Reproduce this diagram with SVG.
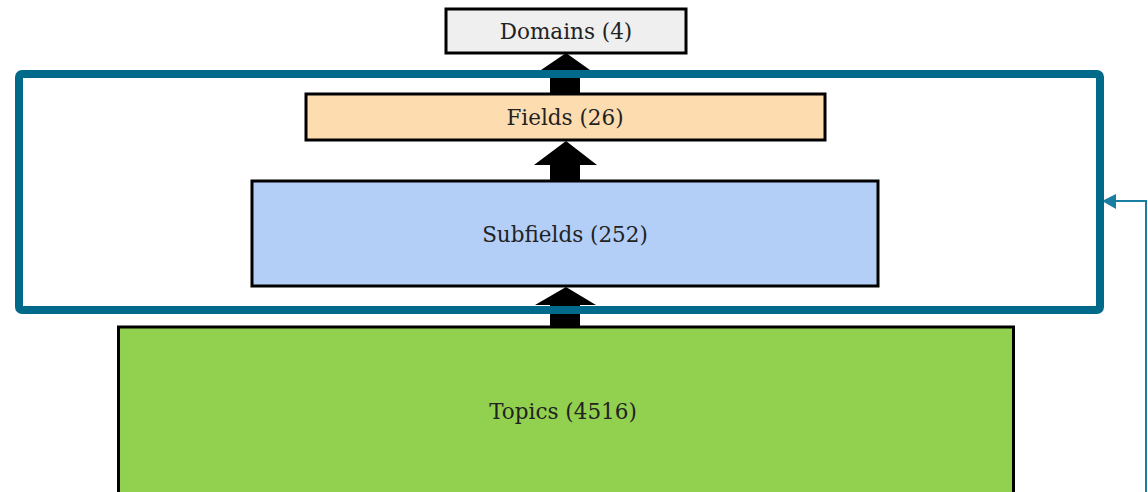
<svg xmlns="http://www.w3.org/2000/svg" width="1148" height="492" viewBox="0 0 1148 492">
<style>
.box{stroke:#000;stroke-width:3}
.lbl{font-family:"DejaVu Serif","Liberation Serif",serif;font-size:21.5px;fill:#222;text-anchor:middle;dominant-baseline:central}
.arr{fill:#000}
</style>
<rect width="1148" height="492" fill="#fff"/>
<g id="connectors">
<polygon class="arr" points="566,53 590,70 580,70 580,93 550,93 550,70 541,70"/>
<polygon class="arr" points="566,141 597,165 580,165 580,180 550,180 550,165 534,165"/>
<polygon class="arr" points="566,287 596,305 580,305 580,327 550,327 550,305 535,305"/>
<polyline points="1146,492 1146,201 1116,201" fill="none" stroke="#1a7ea0" stroke-width="2"/>
<polygon points="1102,201 1116,194 1116,209" fill="#1a7ea0"/>
</g>
<g id="domains">
<rect class="box" x="446" y="9" width="240" height="44" fill="#efefef"/>
<text class="lbl" x="566" y="31">Domains (4)</text>
</g>
<g id="fields">
<rect class="box" x="306" y="94" width="519" height="46" fill="#fddcb0"/>
<text class="lbl" x="565" y="117">Fields (26)</text>
</g>
<g id="subfields">
<rect class="box" x="252" y="181" width="626" height="105" fill="#b3cff8"/>
<text class="lbl" x="565" y="234">Subfields (252)</text>
</g>
<g id="topics">
<rect class="box" x="118.5" y="327" width="895" height="170" fill="#92d050"/>
<text class="lbl" x="563" y="411">Topics (4516)</text>
</g>
<g id="group-frame">
<rect x="19" y="74" width="1081" height="236" rx="3" fill="none" stroke="#006a8b" stroke-width="8"/>
</g>
</svg>
